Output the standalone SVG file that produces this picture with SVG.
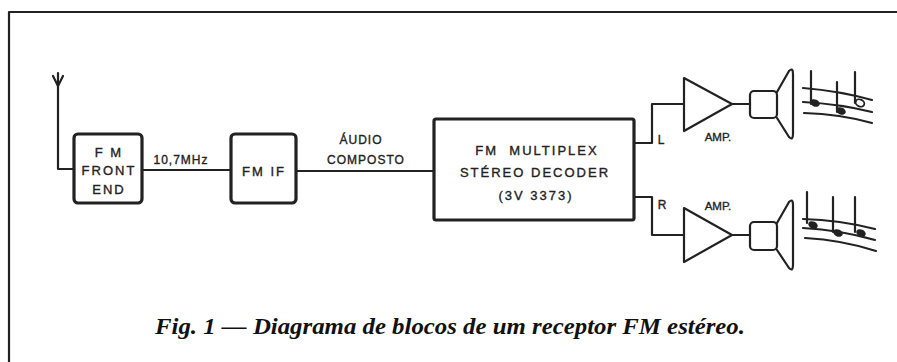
<svg xmlns="http://www.w3.org/2000/svg" width="897" height="362" viewBox="0 0 897 362">
  <style>
    .ln { fill: none; stroke: #222; stroke-width: 2.2; stroke-linejoin: round; stroke-linecap: round; }
    .box { fill: #fff; stroke: #222; stroke-width: 3.2; }
    .lbl { font-family: "Liberation Sans", Arial, sans-serif; fill: #222; stroke: #222; stroke-width: 0.35; text-anchor: middle; }
    .blk { font-size: 13px; letter-spacing: 2px; }
    .sig { font-size: 12px; letter-spacing: 1px; }
    .amp { font-size: 11.5px; }
    .cap { font-family: "Liberation Serif", "Times New Roman", serif; font-weight: bold; font-style: italic; font-size: 23px; fill: #111; }
    .note { fill: #222; }
  </style>
  <rect width="897" height="362" fill="#fff"/>

  <!-- frame: top rule and left rule -->
  <path class="ln" d="M9 362 V12 H897" stroke-width="2.2" stroke-linecap="butt"/>

  <!-- connectors -->
  <g id="connectors">
    <!-- antenna -->
    <path class="ln" d="M58 73 V169 H74"/>
    <path class="ln" d="M53 76 L58 86 L63 76"/>
    <path class="ln" d="M142 170 H230"/>
    <path class="ln" d="M296 171 H434"/>
    <path class="ln" d="M634 143 H652 V104 H684"/>
    <path class="ln" d="M634 197 H652 V235 H684"/>
    <path class="ln" d="M732 104 H750"/>
    <path class="ln" d="M732 235 H750"/>
  </g>

  <g id="front-end">
    <rect class="box" x="74" y="134" width="68" height="69" rx="4"/>
    <text class="lbl blk" x="109" y="157">F M</text>
    <text class="lbl blk" x="109" y="175">FRONT</text>
    <text class="lbl blk" x="109" y="194">END</text>
  </g>
  <text class="lbl sig" x="181" y="164">10,7MHz</text>

  <g id="fm-if">
    <rect class="box" x="231" y="134" width="65" height="69" rx="4"/>
    <text class="lbl blk" x="264" y="176">FM IF</text>
  </g>
  <text class="lbl sig" x="361" y="144">ÁUDIO</text>
  <text class="lbl sig" x="366" y="164">COMPOSTO</text>

  <g id="decoder">
    <rect class="box" x="434" y="119" width="200" height="101" rx="2"/>
    <text class="lbl blk" x="537" y="155" xml:space="preserve">FM  MULTIPLEX</text>
    <text class="lbl blk" x="535" y="177">STÉREO DECODER</text>
    <text class="lbl blk" x="536" y="200">(3V 3373)</text>
  </g>
  <text class="lbl" x="661" y="144" font-size="12">L</text>
  <text class="lbl" x="662" y="209" font-size="12">R</text>

  <g id="amp-left">
    <path class="ln" d="M684 78 L732 104 L684 131 Z"/>
    <text class="lbl amp" x="718" y="141">AMP.</text>
  </g>
  <g id="amp-right">
    <path class="ln" d="M684 208 L732 235 L684 262 Z"/>
    <text class="lbl amp" x="718" y="210">AMP.</text>
  </g>

  <g id="speaker-left">
    <rect class="ln" x="750" y="91" width="27" height="27" rx="4"/>
    <path class="ln" d="M777 92 L789 71 Q793 67 793 74 V134 Q793 141 789 137 L777 118"/>
  </g>
  <g id="speaker-right">
    <rect class="ln" x="750" y="222" width="27" height="28" rx="4"/>
    <path class="ln" d="M777 223 L789 202 Q793 198 793 205 V265 Q793 272 789 268 L777 250"/>
  </g>

  <g id="notes-left">
    <path class="ln" d="M803 88 Q840 91 872 100"/>
    <path class="ln" d="M803 102 Q840 104 872 112"/>
    <path class="ln" d="M804 113 Q840 114 872 123"/>
    <path class="ln" d="M811 71 V104"/>
    <path class="ln" d="M837 82 V112"/>
    <path class="ln" d="M855 72 V103"/>
    <ellipse class="note" cx="815" cy="103" rx="5" ry="3.5" transform="rotate(25 815 103)"/>
    <ellipse class="note" cx="841" cy="111" rx="5" ry="3.5" transform="rotate(25 841 111)"/>
    <ellipse cx="860" cy="103" rx="4.5" ry="3.5" fill="none" stroke="#222" stroke-width="1.8" transform="rotate(25 860 103)"/>
  </g>
  <g id="notes-right">
    <path class="ln" d="M803 219 Q840 220 875 229"/>
    <path class="ln" d="M803 228 Q840 230 875 240"/>
    <path class="ln" d="M805 238 Q842 240 876 251"/>
    <path class="ln" d="M807 192 V223"/>
    <path class="ln" d="M833 197 V232"/>
    <path class="ln" d="M855 197 V232"/>
    <ellipse class="note" cx="813" cy="225" rx="5" ry="3.5" transform="rotate(25 813 225)"/>
    <ellipse class="note" cx="838" cy="233" rx="5" ry="3.5" transform="rotate(25 838 233)"/>
    <ellipse class="note" cx="861" cy="233" rx="5" ry="3.5" transform="rotate(25 861 233)"/>
  </g>

  <text class="cap" x="155" y="334" textLength="590" lengthAdjust="spacingAndGlyphs">Fig. 1 — Diagrama de blocos de um receptor FM estéreo.</text>
</svg>
